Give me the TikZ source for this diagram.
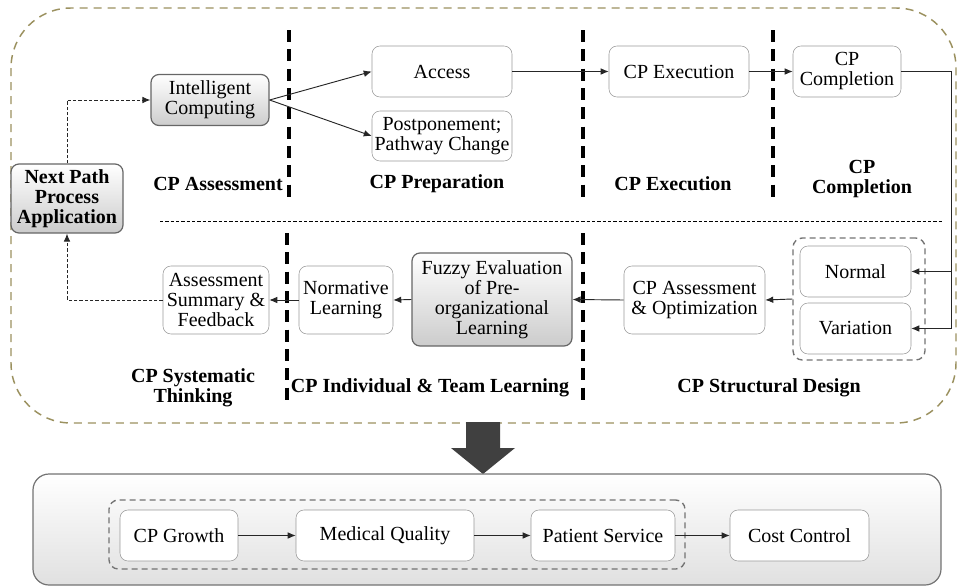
\documentclass[tikz,border=0pt]{standalone}
\usepackage{fontspec}
\setmainfont{Liberation Serif}
\usepackage{xcolor}
\usetikzlibrary{
  positioning,
  calc,
  arrows.meta
}

\definecolor{framecol}{RGB}{155,145,95}
\definecolor{arrowcol}{RGB}{64,64,64}

\tikzset{
  txt/.style={font=\fontsize{15}{15}\selectfont},
  sz/.style 2 args={minimum width=#1*0.75pt, minimum height=#2*0.75pt},
  box/.style={txt, draw=black!40, rounded corners=6pt, fill=white, align=center, inner sep=0pt},
  keybox/.style={box, draw=black!60, line width=0.9pt, top color=white, bottom color=black!20},
  lbl/.style={txt, align=center, font=\fontsize{15}{15}\selectfont\bfseries},
  arr/.style={-{Latex[length=6pt,width=5pt]}, black!85, line width=0.7pt},
  stageline/.style={line width=2.4pt, dash pattern=on 9pt off 5.5pt},
  grp/.style={draw=black!55, dash pattern=on 4.5pt off 3pt, line width=1pt, rounded corners=7pt}
}

\begin{document}
\begin{tikzpicture}[x=0.75pt,y=-0.75pt]
  \useasboundingbox (0,0) rectangle (958,586);

  % 外枠
  \draw [framecol, line width=1.1pt, dash pattern=on 6pt off 4.5pt, rounded corners=45pt]
    (11,8) rectangle (956,423);

  % 段階の区切り線
  \draw [stageline] (289,30)--(289,197);
  \draw [stageline] (287,233)--(287,405);
  \draw [stageline] (583,30)--(583,197);
  \draw [stageline] (583,233)--(583,405);
  \draw [stageline] (773,30)--(773,197);
  \draw [line width=0.6pt, dash pattern=on 2.5pt off 1.5pt] (160,221)--(943,221);

  % 上段
  \node [keybox, sz={118}{51}] (intel) at (210,100) {Intelligent\\Computing};
  \node [box, sz={140}{51}] (access) at (442,71.5) {Access};
  \node [box, sz={140}{50}] (post) at (442,136) {Postponement;\\Pathway Change};
  \node [box, sz={140}{51}] (exec) at (679,71.5) {CP Execution};
  \node [box, sz={108}{51}] (comp) at (847,71.5) {CP\\Completion};
  \node [keybox, sz={112}{69}, font=\fontsize{15}{15}\selectfont\bfseries] (next) at (67,198.5) {Next Path\\Process\\Application};

  % 下段
  \node [box, sz={106}{68}] (summ) at (216,300) {Assessment\\Summary \&\\Feedback};
  \node [box, sz={94}{68}] (norm) at (346,300) {Normative\\Learning};
  \node [keybox, sz={160}{93}] (fuzzy) at (492,299.5) {Fuzzy Evaluation\\of Pre-\\organizational\\Learning};
  \node [box, sz={141}{68}] (opt) at (694.5,300) {CP Assessment\\\& Optimization};
  \node [grp, sz={132}{122}] (nv) at (859,299) {};
  \node [box, sz={111}{51}] (normal) at (855.5,271.5) {Normal};
  \node [box, sz={111}{51}] (var) at (855.5,328.5) {Variation};

  % 段階名
  \node [lbl] (lassess) at (218,184) {CP Assessment};
  \node [lbl] (lprep) at (437,184) {CP Preparation};
  \node [lbl] (lexec) at (673,184) {CP Execution};
  \node [lbl] (lcomp) at (862,179) {CP\\Completion};
  \node [lbl] (lsys) at (193,388) {CP Systematic\\Thinking};
  \node [lbl] (lteam) at (430,388) {CP Individual \& Team Learning};
  \node [lbl] (ldesign) at (769,388) {CP Structural Design};

  % 矢印
  \coordinate (rbus) at (951,271.5);
  \draw [arr] (intel.east)--(access.west);
  \draw [arr] (intel.east)--(post.west);
  \draw [arr] (access.east)--(exec.west);
  \draw [arr] (exec.east)--(comp.west);
  \draw [arr] (comp.east) -| (rbus)--(normal.east);
  \draw [arr] (rbus) |- (var.east);
  \draw [arr] (nv.west)--(opt.east);
  \draw [arr] (opt.west)--(fuzzy.east);
  \draw [arr] (fuzzy.west)--(norm.east);
  \draw [arr] (norm.west)--(summ.east);
  \draw [arr, dash pattern=on 2.5pt off 1.5pt] (summ.west) -| (next.south);
  \draw [arr, dash pattern=on 2.5pt off 1.5pt] (next.north) |- (intel.west);

  % 大きな矢印
  \fill [arrowcol] (466,422)--(500,422)--(500,448)--(515,448)--(483,474)--(451,448)--(466,448)--cycle;

  % 下の枠
  \node [box, draw=black!55, line width=0.9pt, rounded corners=12pt, top color=white, bottom color=black!12, sz={908}{111}] (base) at (487,529.5) {};
  \node [grp, sz={576}{69}] (inner) at (397,534.5) {};
  \node [box, sz={118}{51}] (growth) at (179,535.5) {CP Growth};
  \node [box, sz={178}{51}] (quality) at (385,535.5) {Medical Quality};
  \node [box, sz={144}{51}] (service) at (603,535.5) {Patient Service};
  \node [box, sz={139}{51}] (cost) at (799.5,535.5) {Cost Control};
  \draw [arr] (growth.east)--(quality.west);
  \draw [arr] (quality.east)--(service.west);
  \draw [arr] (service.east)--(cost.west);
\end{tikzpicture}
\end{document}
